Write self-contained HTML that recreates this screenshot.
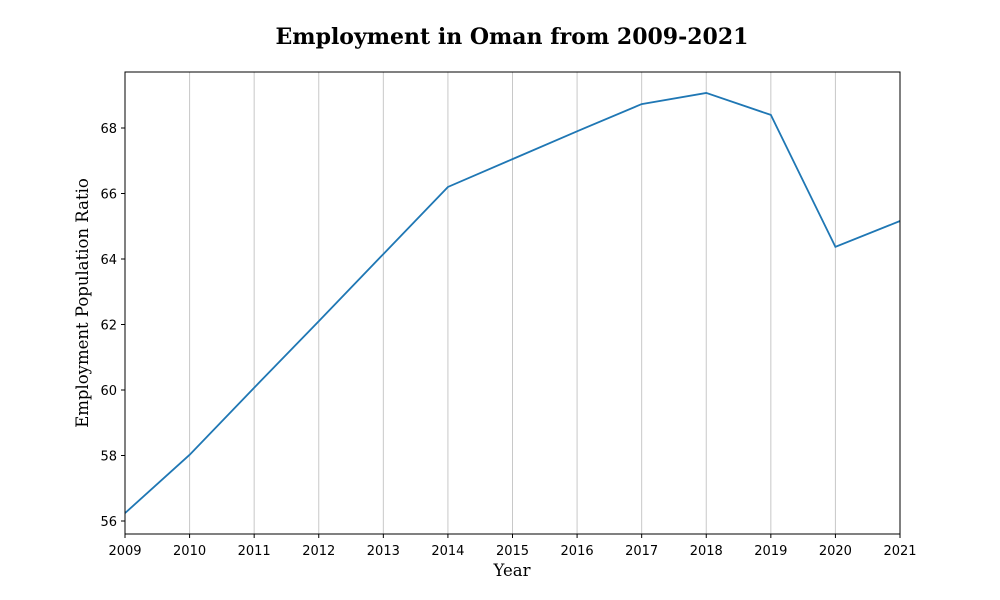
<!DOCTYPE html>
<html><head><meta charset="utf-8"><style>
body{margin:0;background:#fff;}
svg{display:block;}
</style></head><body>
<svg id="chart" width="1000" height="600" xmlns="http://www.w3.org/2000/svg">
<text x="512" y="44" text-anchor="middle" font-family="DejaVu Serif, serif" font-weight="bold" font-size="22">Employment in Oman from 2009-2021</text>
<g id="grid"></g>
<g id="ticks"></g>
<path id="line" fill="none" stroke="#1f77b4" stroke-width="1.8"/>
<rect x="125" y="72" width="775" height="462" fill="none" stroke="#000" stroke-width="1"/>
<text x="512" y="576" text-anchor="middle" font-family="DejaVu Serif, serif" font-size="16.5">Year</text>
<text x="88" y="303" text-anchor="middle" font-family="DejaVu Serif, serif" font-size="16.5" transform="rotate(-90 88 303)">Employment Population Ratio</text>
</svg>
<script>
const years = [2009,2010,2011,2012,2013,2014,2015,2016,2017,2018,2019,2020,2021];
const ratios = [56.24,58.02,60.07,62.1,64.15,66.2,67.05,67.9,68.73,69.07,68.4,64.37,65.16];
const yTicks = [56,58,60,62,64,66,68];
const NS = "http://www.w3.org/2000/svg";
const x = v => 125 + (v - 2009) * (775 / 12);
const y = v => 521 - (v - 56) * 32.75;
const grid = document.getElementById('grid'), ticks = document.getElementById('ticks');
function mk(tag, attrs, parent){const e=document.createElementNS(NS,tag);for(const k in attrs)e.setAttribute(k,attrs[k]);parent.appendChild(e);return e;}
years.forEach(yr=>{
  const gl = mk('line',{x1:x(yr),x2:x(yr),y1:72,y2:534,stroke:'#c8c8c8','stroke-width':1},grid);
  
  
  mk('line',{x1:x(yr),x2:x(yr),y1:534,y2:538,stroke:'#000'},ticks);
  const t = mk('text',{x:x(yr),y:555,'text-anchor':'middle','font-family':'DejaVu Sans, sans-serif','font-size':13},ticks);
  t.textContent = yr;
  
  
});
yTicks.forEach(v=>{
  mk('line',{x1:121,x2:125,y1:y(v),y2:y(v),stroke:'#000'},ticks);
  const t = mk('text',{x:117,y:y(v)+5,'text-anchor':'end','font-family':'DejaVu Sans, sans-serif','font-size':13},ticks);
  t.textContent = v;
  
  
});
document.getElementById('line').setAttribute('d', years.map((yr,i)=>(i?'L':'M')+x(yr)+','+y(ratios[i])).join(' '));
</script>
</body></html>
